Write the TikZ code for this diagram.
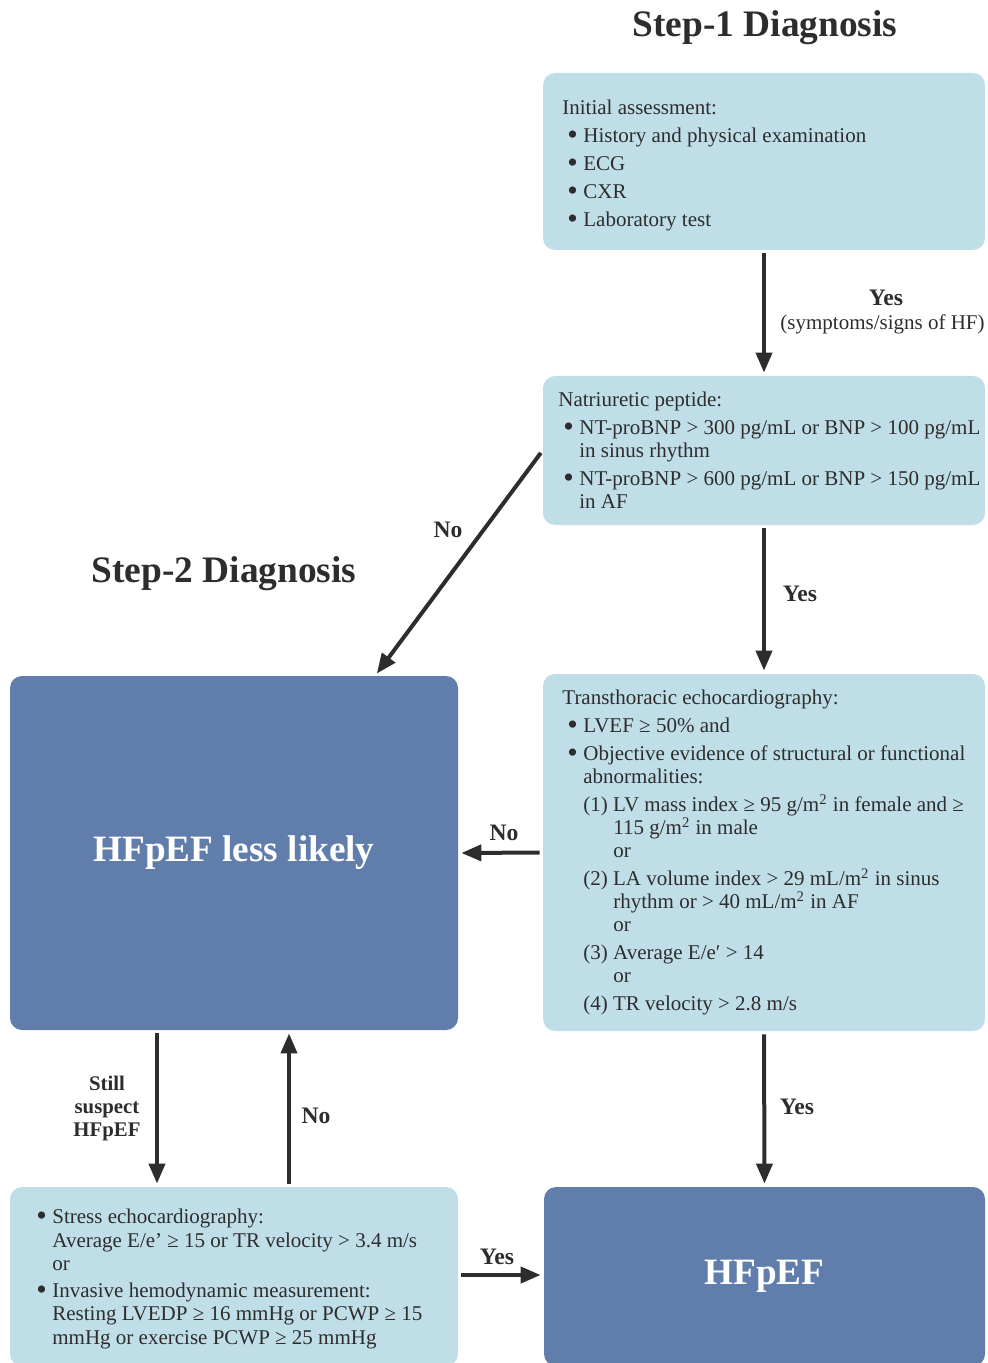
\documentclass[tikz,border=0pt]{standalone}
\usepackage{fontspec}
\setmainfont{Liberation Serif}
\usetikzlibrary{arrows.meta}
\definecolor{lightbox}{RGB}{192,222,232}
\definecolor{darkbox}{RGB}{96,125,172}
\definecolor{ink}{RGB}{45,45,45}
\newcommand{\bul}{\makebox[10.5pt][l]{\hspace{2.5pt}\raisebox{-0.9pt}{\fontsize{15}{15}\selectfont\textbullet}}}
\newcommand{\ind}{\hspace*{10.5pt}}
\newcommand{\numind}{\hspace*{15pt}}
\tikzset{
  lbox/.style={fill=lightbox, rounded corners=6pt},
  dbox/.style={fill=darkbox, rounded corners=6pt, text=white, font=\bfseries\fontsize{18.6}{20}\selectfont},
  body/.style={font=\fontsize{10.5}{11.5}\selectfont, text=ink, align=left, inner sep=0pt, anchor=north west},
  title/.style={font=\bfseries\fontsize{18.7}{20}\selectfont, text=ink},
  lbl/.style={font=\bfseries\fontsize{11.8}{13}\selectfont, text=ink},
  flow/.style={draw=ink, line width=2pt, -{Triangle[length=10pt,width=8pt]}, shorten <=1.5pt, shorten >=1.5pt},
}
\begin{document}
\begin{tikzpicture}[x=0.5pt,y=-0.5pt]
\clip (0,0) rectangle (987,1363);
% headings
\node[title] (step1) at (765,28) {Step-1 Diagnosis};
\node[title] (step2) at (224,574) {Step-2 Diagnosis};
% boxes
\node[lbox, minimum width=221pt, minimum height=88.5pt] (init) at (764,161.5) {};
\node[lbox, minimum width=221pt, minimum height=74.5pt] (natri) at (764,450.5) {};
\node[lbox, minimum width=221pt, minimum height=178.5pt] (echo) at (764,852.5) {};
\node[dbox, minimum width=224pt, minimum height=177pt] (unlikely) at (234,853) {HFpEF less likely};
\node[lbox, minimum width=224pt, minimum height=89.5pt] (stress) at (234,1276.5) {};
\node[dbox, minimum width=220.5pt, minimum height=89.5pt] (hfpef) at (764.5,1276.5) {HFpEF};
% box texts
\node[body] (inittxt) at (562,100) {Initial assessment:\\[2.5pt]
\bul History and physical examination\\[2.5pt]
\bul ECG\\[2.5pt]
\bul CXR\\[2.5pt]
\bul Laboratory test};
\node[body] (natritxt) at (558,392) {Natriuretic peptide:\\[2.5pt]
\bul NT-proBNP > 300 pg/mL or BNP > 100 pg/mL\\
\ind in sinus rhythm\\[2.5pt]
\bul NT-proBNP > 600 pg/mL or BNP > 150 pg/mL\\
\ind in AF};
\node[body] (echotxt) at (562,690) {Transthoracic echocardiography:\\[2.5pt]
\bul LVEF ≥ 50\% and\\[2.5pt]
\bul Objective evidence of structural or functional\\
\ind abnormalities:\\[2.5pt]
\ind (1) LV mass index ≥ 95 g/m\textsuperscript{2} in female and ≥\\
\ind\numind 115 g/m\textsuperscript{2} in male\\
\ind\numind or\\[2.5pt]
\ind (2) LA volume index > 29 mL/m\textsuperscript{2} in sinus\\
\ind\numind rhythm or > 40 mL/m\textsuperscript{2} in AF\\
\ind\numind or\\[2.5pt]
\ind (3) Average E/e′ > 14\\
\ind\numind or\\[2.5pt]
\ind (4) TR velocity > 2.8 m/s};
\node[body] (stresstxt) at (31,1209) {\bul Stress echocardiography:\\[0.5pt]
\ind Average E/e’ ≥ 15 or TR velocity > 3.4 m/s\\
\ind or\\[2pt]
\bul Invasive hemodynamic measurement:\\
\ind Resting LVEDP ≥ 16 mmHg or PCWP ≥ 15\\[0.5pt]
\ind mmHg or exercise PCWP ≥ 25 mmHg};
% connector ends
\coordinate (tipd) at (375,676);
\coordinate (dnx) at (157,0);
\coordinate (upx) at (289,0);
\coordinate (yy) at (0,1275);
% arrows
\draw[flow] (init.south) -- (natri.north);
\draw[flow] (natri.south) -- (echo.north);
\draw[flow] (echo.south) -- (hfpef.north);
\draw[flow] (natri.west) -- (tipd);
\draw[flow] (echo.west) -- (unlikely.east);
\draw[flow] (unlikely.south -| dnx) -- (stress.north -| dnx);
\draw[flow] (stress.north -| upx) -- (unlikely.south -| upx);
\draw[flow] (stress.east |- yy) -- (hfpef.west |- yy);
% labels
\node[lbl] (yes1) at (886,298) {Yes};
\node[font=\fontsize{10.5}{12}\selectfont, text=ink, anchor=east, inner sep=0pt] (why) at (985,324) {(symptoms/signs of HF)};
\node[lbl] (no1) at (448,530) {No};
\node[lbl] (yes2) at (800,594) {Yes};
\node[lbl] (no2) at (504,833) {No};
\node[lbl] (yes3) at (797,1107) {Yes};
\node[lbl] (no3) at (316,1116) {No};
\node[lbl] (yes4) at (497,1257) {Yes};
\node[lbl, align=center, font=\bfseries\fontsize{10.4}{11.5}\selectfont] (still) at (107,1108) {Still\\suspect\\HFpEF};
\end{tikzpicture}
\end{document}
